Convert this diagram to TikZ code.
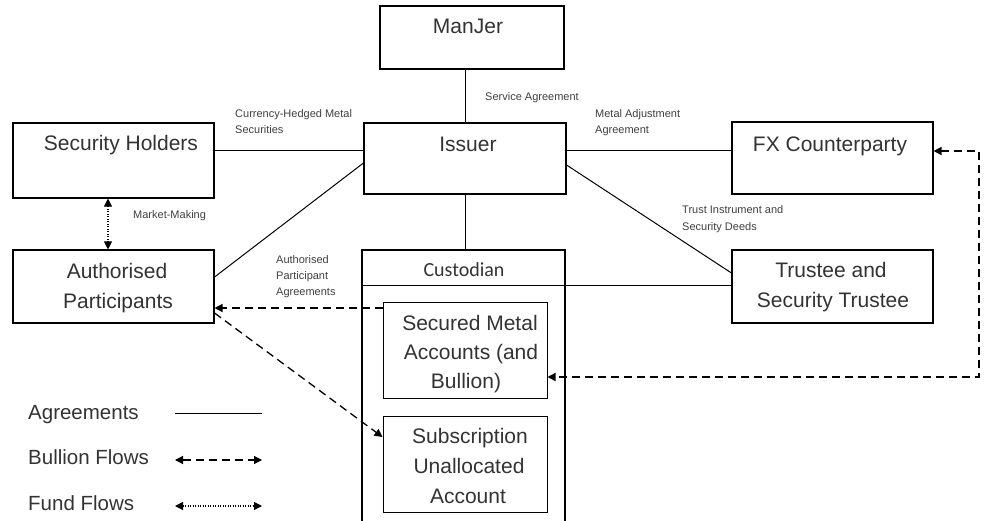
\documentclass[tikz,border=0pt]{standalone}
\usepackage{fontspec}
\setmainfont{Liberation Sans}
\newfontfamily\calfont{Carlito}
\usetikzlibrary{arrows.meta}
\begin{document}
\begin{tikzpicture}[x=1pt,y=-1pt,
  box/.style={draw, line width=1.1pt, inner sep=0pt},
  big/.style={font=\fontsize{21}{25}\selectfont, text=black!80, anchor=base, inner sep=0pt},
  leg/.style={font=\fontsize{20.5}{24}\selectfont, text=black!80, anchor=base west, inner sep=0pt},
  small/.style={font=\fontsize{11}{13}\selectfont, text=black!75, anchor=base west, inner sep=0pt},
  agree/.style={line width=1pt},
  bullion/.style={line width=1.3pt, dash pattern=on 8pt off 5pt},
  fund/.style={line width=1.1pt, dash pattern=on 1pt off 1.5pt},
  tip/.style={arrows={-Triangle[length=8pt,width=8pt]}},
  tips/.style={arrows={Triangle[length=8pt,width=8pt]-Triangle[length=8pt,width=8pt]}},
]
\useasboundingbox (0,0) rectangle (986,520);
\clip (0,0) rectangle (986,520);
\fill[white] (0,0) rectangle (986,520);

% boxes
\node[box, minimum width=184pt, minimum height=63pt] (manjer) at (472,37.5) {};
\node[box, minimum width=202pt, minimum height=71pt] (issuer) at (465,158.5) {};
\node[box, minimum width=201pt, minimum height=75pt] (sh) at (113.5,160.5) {};
\node[box, minimum width=201pt, minimum height=73pt] (ap) at (113.5,286.5) {};
\node[box, minimum width=201pt, minimum height=72pt] (fx) at (832.5,158) {};
\node[box, minimum width=201pt, minimum height=73pt] (trustee) at (832.5,286.5) {};
\node[draw, line width=2.2pt, inner sep=0pt, minimum width=203pt, minimum height=290pt] (cust) at (463.5,395) {};
\node[box, line width=1pt, minimum width=164pt, minimum height=96pt] (secured) at (465,350) {};
\node[box, line width=1pt, minimum width=164pt, minimum height=96pt] (subs) at (465,464) {};

% box texts
\node[big] (tmanjer) at (468,33) {ManJer};
\node[big] (tissuer) at (468,151) {Issuer};
\node[big] (tsh) at (121,150) {Security Holders};
\node[big] (tfx) at (830,151) {FX Counterparty};
\node[big] (tap1) at (117,278) {Authorised};
\node[big] (tap2) at (118,308) {Participants};
\node[big] (ttr1) at (831,277) {Trustee and};
\node[big] (ttr2) at (833,307) {Security Trustee};
\node[big, font=\calfont\fontsize{20}{24}\selectfont] (tcust) at (464,276) {Custodian};
\node[big] (tsec1) at (470,330) {Secured Metal};
\node[big] (tsec2) at (471,359) {Accounts (and};
\node[big] (tsec3) at (466,388) {Bullion)};
\node[big] (tsub1) at (470,443) {Subscription};
\node[big] (tsub2) at (469,473) {Unallocated};
\node[big] (tsub3) at (468,503) {Account};

% agreement connectors
\draw[agree] (issuer.north) -- (issuer.north |- manjer.south);
\draw[agree] ([yshift=10.5pt]sh.east) -- ([yshift=8.5pt]issuer.west);
\draw[agree] ([yshift=8.5pt]issuer.east) -- ([yshift=8pt]fx.west);
\draw[agree] ([yshift=9.5pt]ap.east) -- ([yshift=-4.5pt]issuer.west);
\draw[agree] ([yshift=-6.5pt]issuer.east) -- ([yshift=13.5pt]trustee.west);
\draw[agree] (issuer.south) -- (issuer.south |- cust.north);
\coordinate (hdrL) at (362,285);
\draw[agree] (hdrL) -- (hdrL -| trustee.west);

% flows
\draw[fund, tips] ([xshift=-5.5pt]sh.south) -- ([xshift=-5.5pt]ap.north);
\draw[bullion, tip] ([yshift=42pt]secured.west) -- ([yshift=-21.5pt]ap.east);
\draw[bullion, tip] ([yshift=-26.5pt]ap.east) -- ([yshift=27pt]subs.west);
\coordinate (corner) at (979,377);
\draw[bullion, tips] ([yshift=7pt]fx.east) -| (corner) -- ([yshift=-27pt]secured.east);

% labels
\node[small] (cur1) at (235,117) {Currency-Hedged Metal};
\node[small] (cur2) at (235,133) {Securities};
\node[small] (svc) at (485,100) {Service Agreement};
\node[small] (met1) at (595,117) {Metal Adjustment};
\node[small] (met2) at (595,133) {Agreement};
\node[small] (tru1) at (682,213) {Trust Instrument and};
\node[small] (tru2) at (682,230) {Security Deeds};
\node[small] (mm) at (133,218) {Market-Making};
\node[small] (apa1) at (276,263) {Authorised};
\node[small] (apa2) at (276,279) {Participant};
\node[small] (apa3) at (276,295) {Agreements};

% legend
\node[leg] (leg1) at (28,419) {Agreements};
\node[leg] (leg2) at (28,464) {Bullion Flows};
\node[leg] (leg3) at (28,510) {Fund Flows};
\coordinate (l1a) at (175,413); \coordinate (l1b) at (262,413);
\coordinate (l2a) at (175,460); \coordinate (l2b) at (262,460);
\coordinate (l3a) at (175,506); \coordinate (l3b) at (262,506);
\draw[agree] (l1a) -- (l1b);
\draw[bullion, tips] (l2a) -- (l2b);
\draw[fund, tips] (l3a) -- (l3b);
\end{tikzpicture}
\end{document}
